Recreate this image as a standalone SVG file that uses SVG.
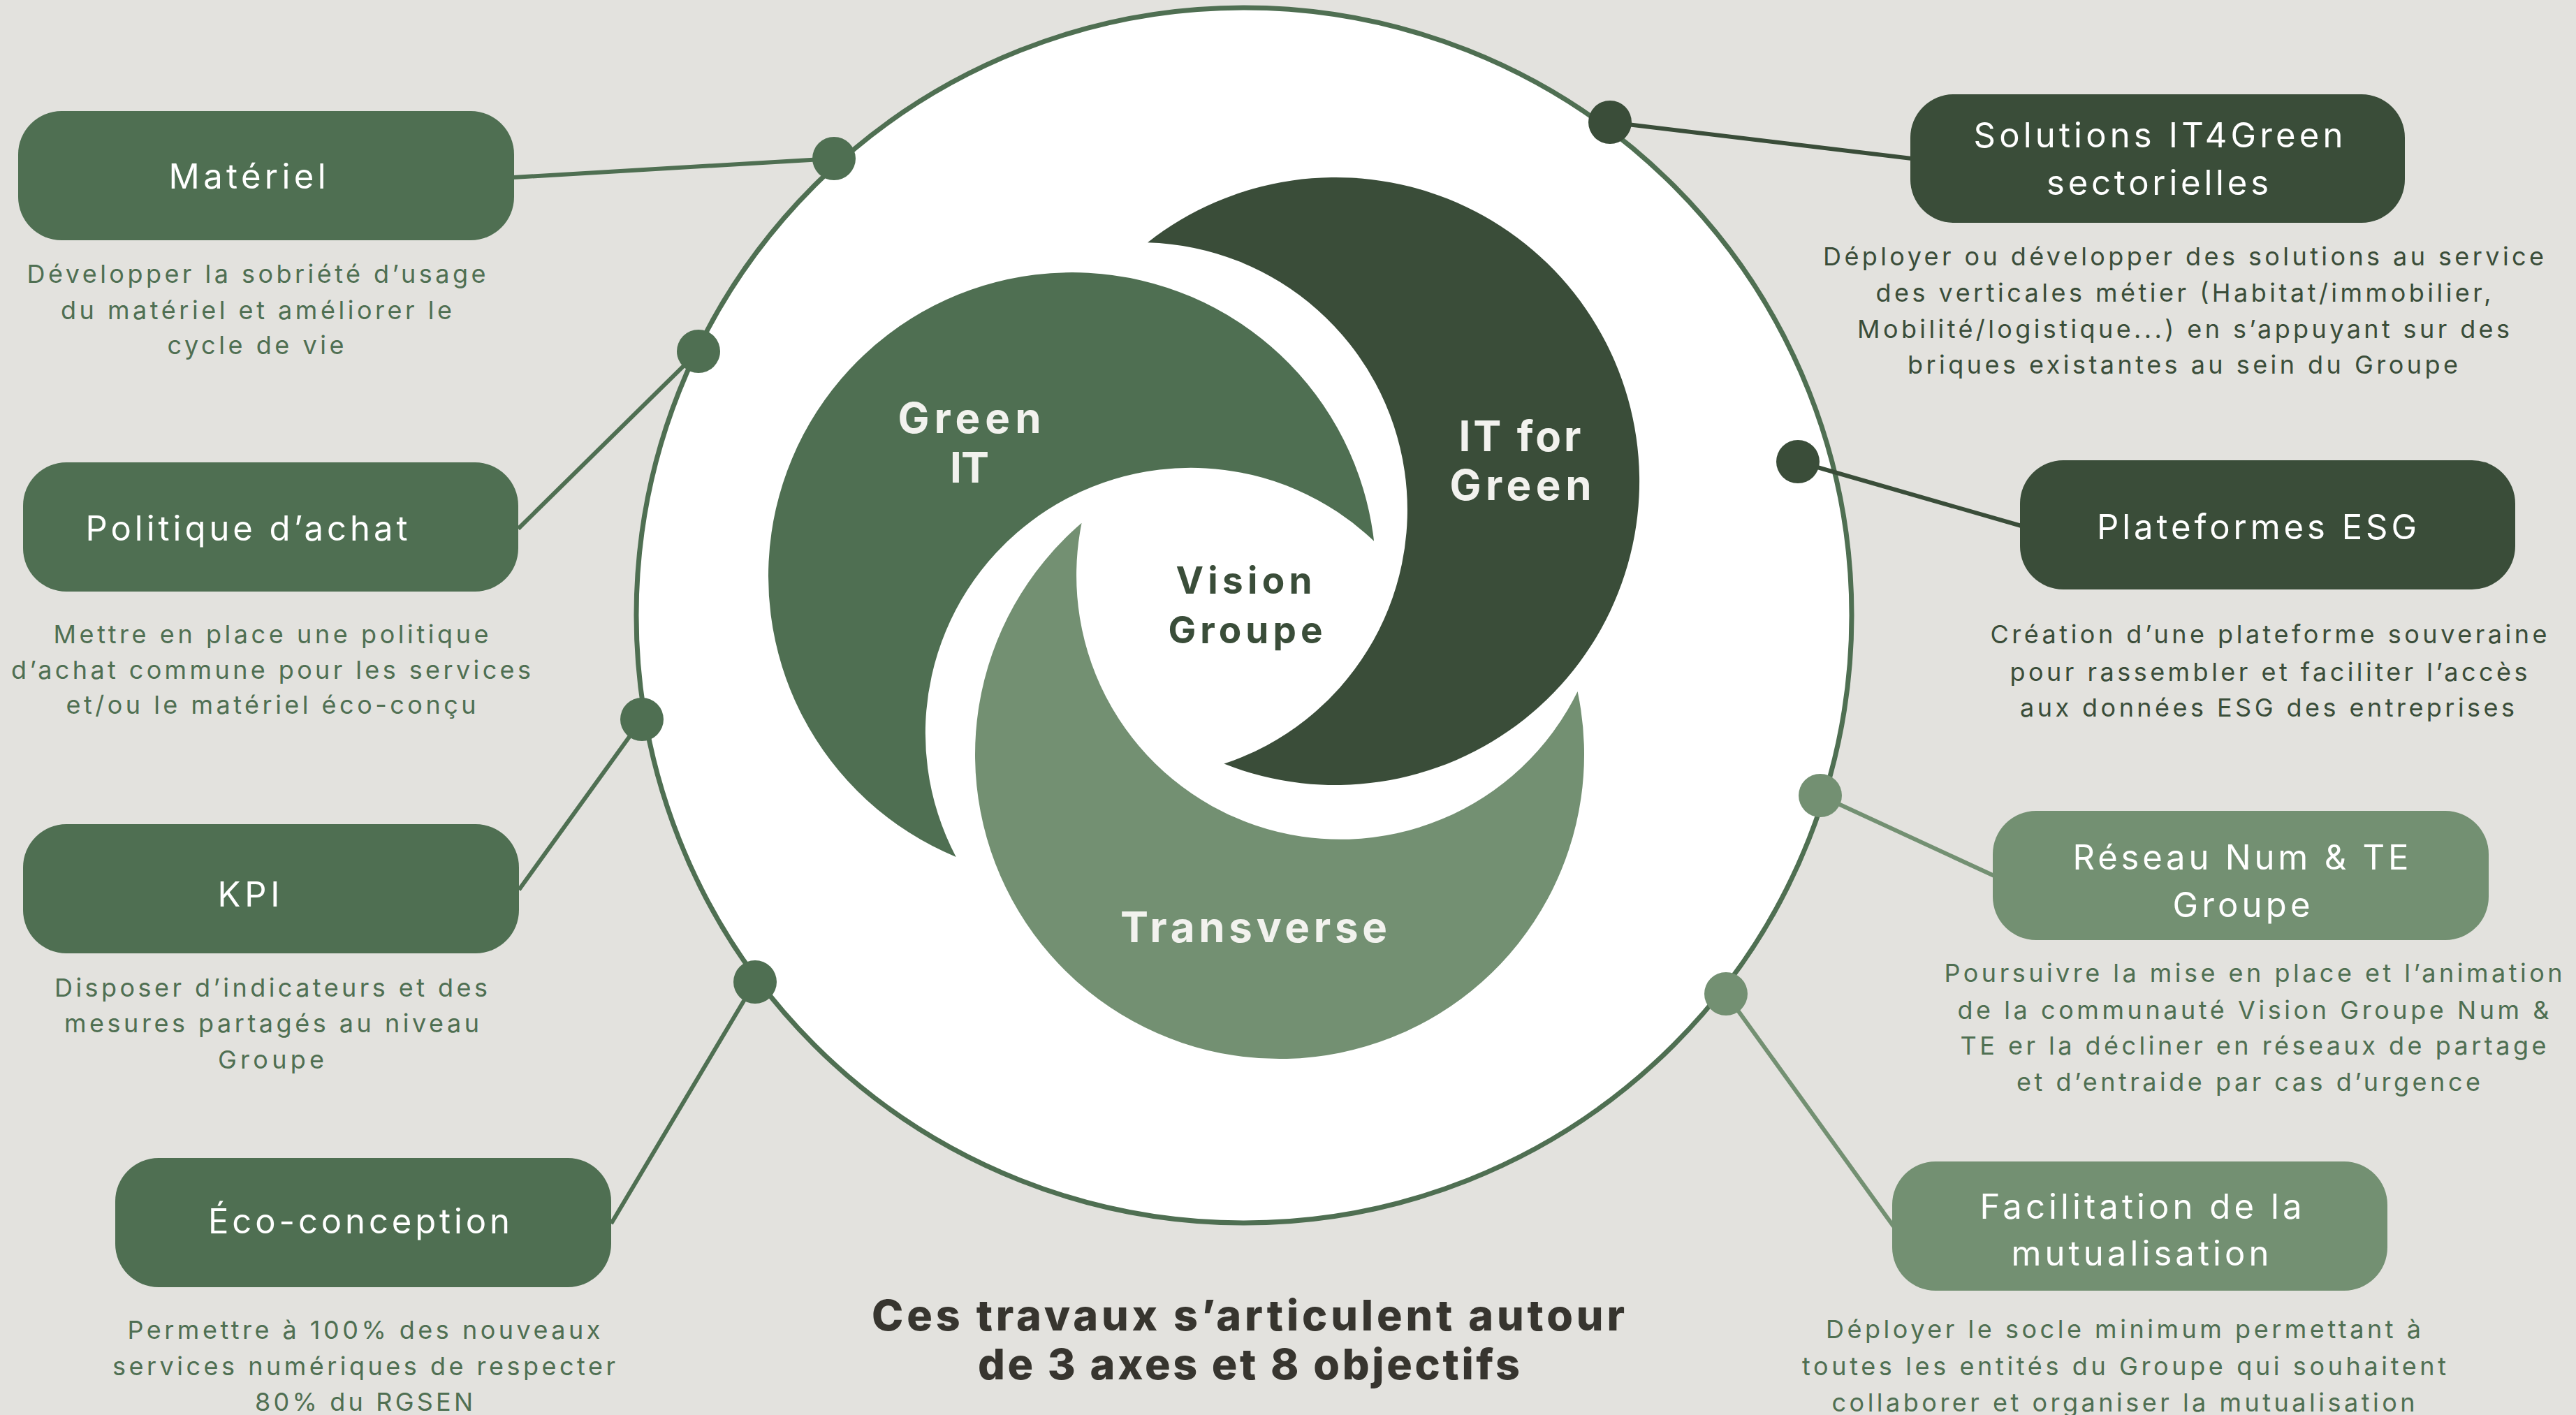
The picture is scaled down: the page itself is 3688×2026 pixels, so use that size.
<svg xmlns="http://www.w3.org/2000/svg" width="3688" height="2026" viewBox="0 0 3688 2026">
<style>
.bg{fill:#E3E2DE}
.b1{fill:#4F6F52}.b2{fill:#3A4D39}.b3{fill:#739072}
.l1{stroke:#4F6F52;stroke-width:6;fill:none}
.l2{stroke:#3A4D39;stroke-width:6;fill:none}
.l3{stroke:#739072;stroke-width:6;fill:none}
.ttl{font-family:Inter,"Liberation Sans",sans-serif;font-size:49px;font-weight:400;fill:#FFFFFF;text-anchor:middle}
.dsc{font-family:Inter,"Liberation Sans",sans-serif;font-size:36px;font-weight:400;text-anchor:middle}
.dl{fill:#4F6F52}.dd{fill:#3A4D39}
.sw{font-family:Inter,"Liberation Sans",sans-serif;font-size:60px;font-weight:700;fill:#F2F2EE;text-anchor:middle}
.vg{font-family:Inter,"Liberation Sans",sans-serif;font-size:53px;font-weight:700;fill:#3A4D39;text-anchor:middle}
.hd{font-family:Inter,"Liberation Sans",sans-serif;font-size:61px;font-weight:800;fill:#37352F;text-anchor:middle}
</style>
<rect class="bg" x="0" y="0" width="3688" height="2026"/>
<circle id="ring" cx="1781" cy="881" r="870" fill="#FFFFFF" stroke="#4F6F52" stroke-width="7"/>
<g id="swirl">
<g id="green-it">
<path class="b1" d="M 1967.1 774.8 A 435 435 0 1 0 1368.7 1227 A 380 380 0 0 1 1967.1 774.8 Z"/>
<text class="sw" x="1388" y="620" textLength="205" lengthAdjust="spacing">Green</text>
<text class="sw" x="1388" y="691" textLength="56" lengthAdjust="spacing">IT</text>
</g>
<g id="it-for-green">
<path class="b2" d="M 1643 347.2 A 435 435 0 1 1 1752.4 1093.6 A 383 383 0 0 0 1643 347.2 Z"/>
<text class="sw" x="2176" y="646" textLength="175" lengthAdjust="spacing">IT for</text>
<text class="sw" x="2177" y="716" textLength="203" lengthAdjust="spacing">Green</text>
</g>
<g id="transverse">
<path class="b3" d="M 1548.6 748.8 A 436 436 0 1 0 2258.6 990 A 378 378 0 0 1 1548.6 748.8 Z"/>
<text class="sw" x="1795" y="1349" textLength="382" lengthAdjust="spacing">Transverse</text>
</g>
<g id="vision-groupe">
<text class="vg" x="1781" y="850" textLength="195" lengthAdjust="spacing">Vision</text>
<text class="vg" x="1783" y="921" textLength="221" lengthAdjust="spacing">Groupe</text>
</g>
</g>
<g id="connectors">
<line class="l1" x1="735" y1="254" x2="1194" y2="227"/>
<line class="l1" x1="742" y1="757" x2="1000" y2="503"/>
<line class="l1" x1="743" y1="1274" x2="919" y2="1030"/>
<line class="l1" x1="875" y1="1752" x2="1081" y2="1406"/>
<line class="l2" x1="2305" y1="175" x2="2737" y2="227"/>
<line class="l2" x1="2574" y1="661" x2="2894" y2="753"/>
<line class="l3" x1="2606" y1="1139" x2="2855" y2="1254"/>
<line class="l3" x1="2471" y1="1423" x2="2711" y2="1756"/>
<circle class="b1" cx="1194" cy="227" r="31"/>
<circle class="b1" cx="1000" cy="503" r="31"/>
<circle class="b1" cx="919" cy="1030" r="31"/>
<circle class="b1" cx="1081" cy="1406" r="31"/>
<circle class="b2" cx="2305" cy="175" r="31"/>
<circle class="b2" cx="2574" cy="661" r="31"/>
<circle class="b3" cx="2606" cy="1139" r="31"/>
<circle class="b3" cx="2471" cy="1423" r="31"/>
</g>
<g id="materiel">
<rect class="b1" x="26" y="159" width="710" height="185" rx="62"/>
<text class="ttl" x="354" y="270" textLength="225" lengthAdjust="spacing">Matériel</text>
<text class="dsc dl" x="367" y="405" textLength="657" lengthAdjust="spacing">Développer la sobriété d’usage</text>
<text class="dsc dl" x="367" y="457" textLength="560" lengthAdjust="spacing">du matériel et améliorer le</text>
<text class="dsc dl" x="366" y="507" textLength="253" lengthAdjust="spacing">cycle de vie</text>
</g>
<g id="politique-achat">
<rect class="b1" x="33" y="662" width="709" height="185" rx="62"/>
<text class="ttl" x="353" y="774" textLength="461" lengthAdjust="spacing">Politique d’achat</text>
<text class="dsc dl" x="388" y="921" textLength="623" lengthAdjust="spacing">Mettre en place une politique</text>
<text class="dsc dl" x="388" y="972" textLength="744" lengthAdjust="spacing">d’achat commune pour les services</text>
<text class="dsc dl" x="388" y="1022" textLength="587" lengthAdjust="spacing">et/ou le matériel éco-conçu</text>
</g>
<g id="kpi">
<rect class="b1" x="33" y="1180" width="710" height="185" rx="62"/>
<text class="ttl" x="356" y="1298" textLength="89" lengthAdjust="spacing">KPI</text>
<text class="dsc dl" x="388" y="1427" textLength="620" lengthAdjust="spacing">Disposer d’indicateurs et des</text>
<text class="dsc dl" x="389" y="1478" textLength="594" lengthAdjust="spacing">mesures partagés au niveau</text>
<text class="dsc dl" x="388" y="1530" textLength="152" lengthAdjust="spacing">Groupe</text>
</g>
<g id="eco-conception">
<rect class="b1" x="165" y="1658" width="710" height="185" rx="62"/>
<text class="ttl" x="514" y="1766" textLength="432" lengthAdjust="spacing">Éco-conception</text>
<text class="dsc dl" x="521" y="1917" textLength="677" lengthAdjust="spacing">Permettre à 100% des nouveaux</text>
<text class="dsc dl" x="521" y="1969" textLength="720" lengthAdjust="spacing">services numériques de respecter</text>
<text class="dsc dl" x="521" y="2020" textLength="312" lengthAdjust="spacing">80% du RGSEN</text>
</g>
<g id="solutions-it4green">
<rect class="b2" x="2735" y="135" width="708" height="184" rx="62"/>
<text class="ttl" x="3090" y="211" textLength="529" lengthAdjust="spacing">Solutions IT4Green</text>
<text class="ttl" x="3089" y="279" textLength="318" lengthAdjust="spacing">sectorielles</text>
<text class="dsc dd" x="3126" y="380" textLength="1032" lengthAdjust="spacing">Déployer ou développer des solutions au service</text>
<text class="dsc dd" x="3126" y="432" textLength="881" lengthAdjust="spacing">des verticales métier (Habitat/immobilier,</text>
<text class="dsc dd" x="3126" y="484" textLength="934" lengthAdjust="spacing">Mobilité/logistique...) en s’appuyant sur des</text>
<text class="dsc dd" x="3125" y="535" textLength="788" lengthAdjust="spacing">briques existantes au sein du Groupe</text>
</g>
<g id="plateformes-esg">
<rect class="b2" x="2892" y="659" width="709" height="185" rx="62"/>
<text class="ttl" x="3231" y="772" textLength="458" lengthAdjust="spacing">Plateformes ESG</text>
<text class="dsc dd" x="3248" y="921" textLength="797" lengthAdjust="spacing">Création d’une plateforme souveraine</text>
<text class="dsc dd" x="3248" y="975" textLength="741" lengthAdjust="spacing">pour rassembler et faciliter l’accès</text>
<text class="dsc dd" x="3246" y="1026" textLength="708" lengthAdjust="spacing">aux données ESG des entreprises</text>
</g>
<g id="reseau-num-te">
<rect class="b3" x="2853" y="1161" width="710" height="185" rx="62"/>
<text class="ttl" x="3208" y="1245" textLength="481" lengthAdjust="spacing">Réseau Num &amp; TE</text>
<text class="ttl" x="3209" y="1313" textLength="197" lengthAdjust="spacing">Groupe</text>
<text class="dsc dl" x="3226" y="1406" textLength="885" lengthAdjust="spacing">Poursuivre la mise en place et l’animation</text>
<text class="dsc dl" x="3226" y="1459" textLength="847" lengthAdjust="spacing">de la communauté Vision Groupe Num &amp;</text>
<text class="dsc dl" x="3226" y="1510" textLength="839" lengthAdjust="spacing">TE er la décliner en réseaux de partage</text>
<text class="dsc dl" x="3219" y="1562" textLength="664" lengthAdjust="spacing">et d’entraide par cas d’urgence</text>
</g>
<g id="facilitation-mutualisation">
<rect class="b3" x="2709" y="1663" width="709" height="185" rx="62"/>
<text class="ttl" x="3065" y="1745" textLength="461" lengthAdjust="spacing">Facilitation de la</text>
<text class="ttl" x="3064" y="1812" textLength="369" lengthAdjust="spacing">mutualisation</text>
<text class="dsc dl" x="3040" y="1916" textLength="852" lengthAdjust="spacing">Déployer le socle minimum permettant à</text>
<text class="dsc dl" x="3041" y="1969" textLength="922" lengthAdjust="spacing">toutes les entités du Groupe qui souhaitent</text>
<text class="dsc dl" x="3040" y="2021" textLength="835" lengthAdjust="spacing">collaborer et organiser la mutualisation</text>
</g>
<g id="heading">
<text class="hd" x="1787" y="1905" textLength="1078" lengthAdjust="spacing">Ces travaux s’articulent autour</text>
<text class="hd" x="1788" y="1975" textLength="776" lengthAdjust="spacing">de 3 axes et 8 objectifs</text>
</g>
</svg>
